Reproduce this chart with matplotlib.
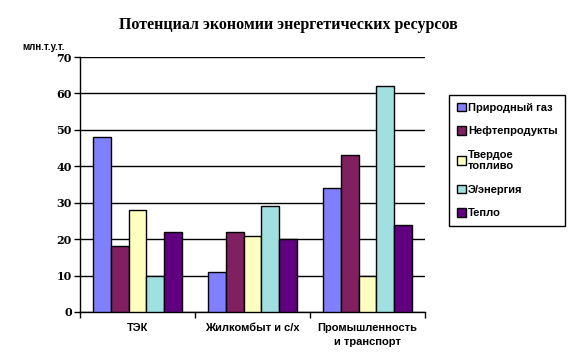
import matplotlib
matplotlib.use("Agg")
import matplotlib.pyplot as plt
import numpy as np

categories = ["ТЭК", "Жилкомбыт и с/х", "Промышленность\nи транспорт"]
series_names = ["Природный газ", "Нефтепродукты", "Твердое\nтопливо", "Э/энергия", "Тепло"]
values = {
    "Природный газ": [48, 11, 34],
    "Нефтепродукты": [18, 22, 43],
    "Твердое\nтопливо": [28, 21, 10],
    "Э/энергия": [10, 29, 62],
    "Тепло": [22, 20, 24],
}
colors = ["#8080FF", "#802060", "#FFFFC0", "#A0E0E0", "#600080"]

fig = plt.figure(figsize=(5.76, 3.59), dpi=100)
W, H = 576, 359
ax = fig.add_axes([80 / W, 1 - 312 / H, (425 - 80) / W, (312 - 57) / H])

n = len(series_names)
group_w = 0.78
bw = group_w / n
x = np.arange(len(categories))
handles = []
for i, name in enumerate(series_names):
    b = ax.bar(x - group_w / 2 + bw * (i + 0.5), values[name], width=bw,
               color=colors[i], edgecolor="black", linewidth=1.0, zorder=3, label=name)
    handles.append(b)

ax.set_xlim(-0.5, len(categories) - 0.5)
ax.set_ylim(0, 70)
ax.set_yticks(range(0, 71, 10))
ax.yaxis.grid(True, color="black", linewidth=1.0, zorder=0)
ax.set_axisbelow(True)
for s in ["top", "right"]:
    ax.spines[s].set_visible(False)
ax.spines["left"].set_linewidth(1.0)
ax.spines["bottom"].set_linewidth(1.0)
ax.tick_params(axis="y", length=4, width=1, direction="out", pad=2)
for lab in ax.get_yticklabels():
    lab.set_fontfamily("DejaVu Serif")
    lab.set_fontweight("bold")
    lab.set_fontsize(8)

ax.set_xticks(np.arange(-0.5, len(categories), 1.0))
ax.set_xticklabels([])
ax.tick_params(axis="x", length=4, width=1, direction="out")
for i, c in enumerate(categories):
    ax.text(i, -3.0, c, ha="center", va="top", fontsize=8, fontweight="bold",
            family="Liberation Sans", linespacing=1.5)

fig.text(288 / W, 1 - 25 / H, "Потенциал экономии энергетических ресурсов",
         ha="center", va="center", fontsize=11.5, fontweight="bold", family="Liberation Serif")
fig.text(22 / W, 1 - 47 / H, "млн.т.у.т.", ha="left", va="center", fontsize=7,
         fontweight="bold", family="Liberation Sans")

leg = fig.legend(handles=handles, labels=series_names, loc="upper left",
                 bbox_to_anchor=(449 / W, 1 - 95 / H), borderaxespad=0, frameon=True, fancybox=False,
                 edgecolor="black", framealpha=1, handlelength=0.8, handleheight=0.8,
                 handletextpad=0.2, labelspacing=1.2, borderpad=0.7,
                 prop={"family": "Liberation Sans", "weight": "bold", "size": 8})
leg.get_frame().set_linewidth(1.0)

fig.savefig("out.png", dpi=100)
